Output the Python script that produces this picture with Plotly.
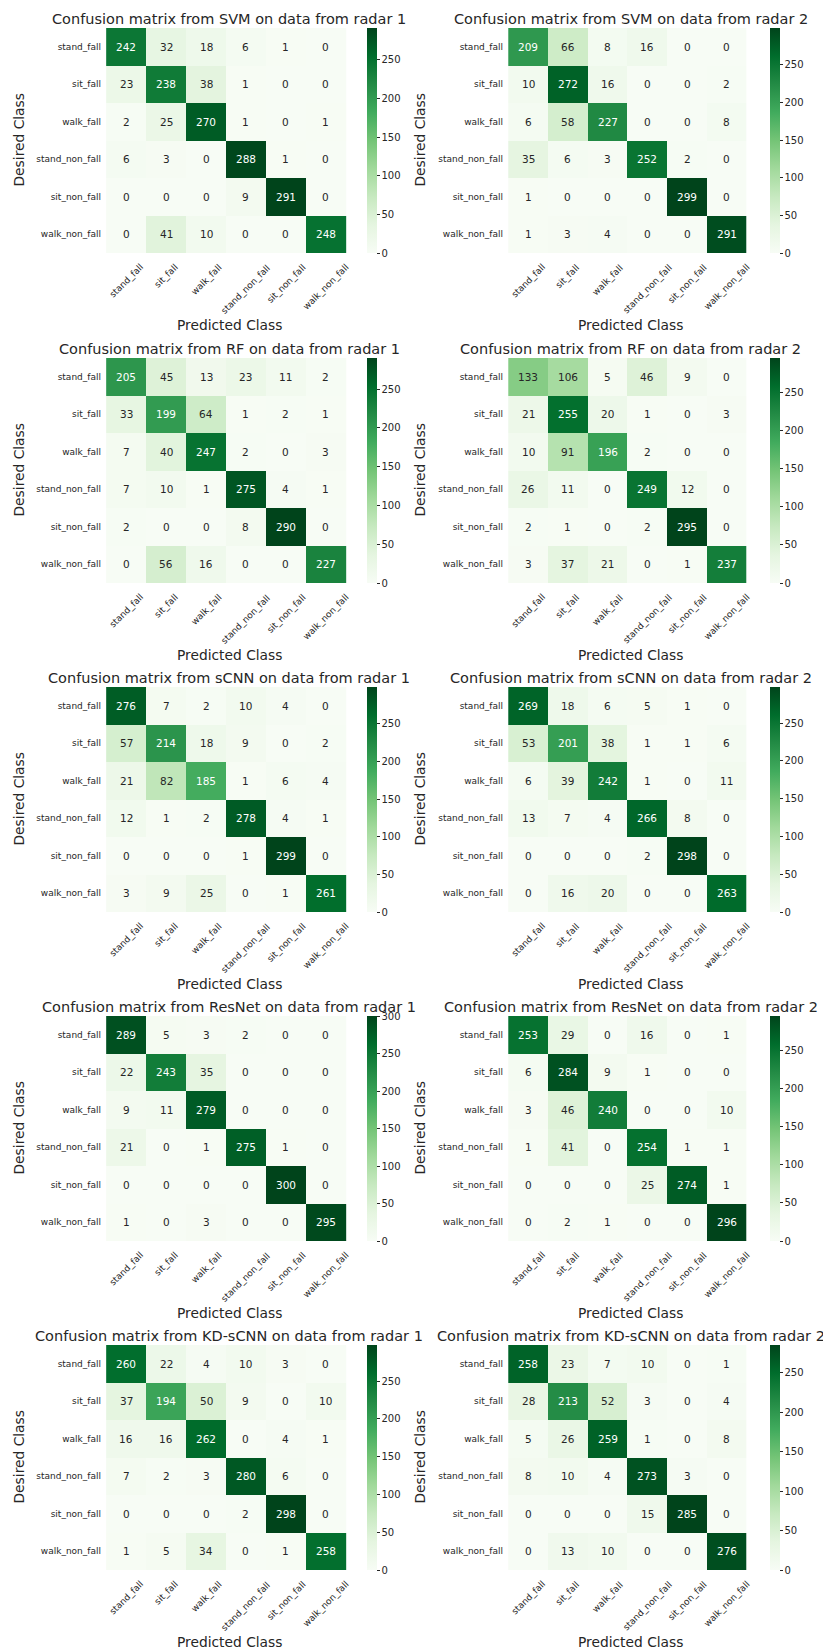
import plotly.graph_objects as go

# Class labels shared by every confusion matrix
classes = ["stand_fall", "sit_fall", "walk_fall", "stand_non_fall", "sit_non_fall", "walk_non_fall"]

svm_r1 = [[242, 32, 18, 6, 1, 0],
          [23, 238, 38, 1, 0, 0],
          [2, 25, 270, 1, 0, 1],
          [6, 3, 0, 288, 1, 0],
          [0, 0, 0, 9, 291, 0],
          [0, 41, 10, 0, 0, 248]]
svm_r2 = [[209, 66, 8, 16, 0, 0],
          [10, 272, 16, 0, 0, 2],
          [6, 58, 227, 0, 0, 8],
          [35, 6, 3, 252, 2, 0],
          [1, 0, 0, 0, 299, 0],
          [1, 3, 4, 0, 0, 291]]
rf_r1 = [[205, 45, 13, 23, 11, 2],
         [33, 199, 64, 1, 2, 1],
         [7, 40, 247, 2, 0, 3],
         [7, 10, 1, 275, 4, 1],
         [2, 0, 0, 8, 290, 0],
         [0, 56, 16, 0, 0, 227]]
rf_r2 = [[133, 106, 5, 46, 9, 0],
         [21, 255, 20, 1, 0, 3],
         [10, 91, 196, 2, 0, 0],
         [26, 11, 0, 249, 12, 0],
         [2, 1, 0, 2, 295, 0],
         [3, 37, 21, 0, 1, 237]]
scnn_r1 = [[276, 7, 2, 10, 4, 0],
           [57, 214, 18, 9, 0, 2],
           [21, 82, 185, 1, 6, 4],
           [12, 1, 2, 278, 4, 1],
           [0, 0, 0, 1, 299, 0],
           [3, 9, 25, 0, 1, 261]]
scnn_r2 = [[269, 18, 6, 5, 1, 0],
           [53, 201, 38, 1, 1, 6],
           [6, 39, 242, 1, 0, 11],
           [13, 7, 4, 266, 8, 0],
           [0, 0, 0, 2, 298, 0],
           [0, 16, 20, 0, 0, 263]]
resnet_r1 = [[289, 5, 3, 2, 0, 0],
             [22, 243, 35, 0, 0, 0],
             [9, 11, 279, 0, 0, 0],
             [21, 0, 1, 275, 1, 0],
             [0, 0, 0, 0, 300, 0],
             [1, 0, 3, 0, 0, 295]]
resnet_r2 = [[253, 29, 0, 16, 0, 1],
             [6, 284, 9, 1, 0, 0],
             [3, 46, 240, 0, 0, 10],
             [1, 41, 0, 254, 1, 1],
             [0, 0, 0, 25, 274, 1],
             [0, 2, 1, 0, 0, 296]]
kdscnn_r1 = [[260, 22, 4, 10, 3, 0],
             [37, 194, 50, 9, 0, 10],
             [16, 16, 262, 0, 4, 1],
             [7, 2, 3, 280, 6, 0],
             [0, 0, 0, 2, 298, 0],
             [1, 5, 34, 0, 1, 258]]
kdscnn_r2 = [[258, 23, 7, 10, 0, 1],
             [28, 213, 52, 3, 0, 4],
             [5, 26, 259, 1, 0, 8],
             [8, 10, 4, 273, 3, 0],
             [0, 0, 0, 15, 285, 0],
             [0, 13, 10, 0, 0, 276]]

models = ["SVM", "RF", "sCNN", "ResNet", "KD-sCNN"]
matrices = [[svm_r1, svm_r2], [rf_r1, rf_r2], [scnn_r1, scnn_r2],
            [resnet_r1, resnet_r2], [kdscnn_r1, kdscnn_r2]]

W, H = 823, 1650
FONT = "DejaVu Sans"
DARK = "#262626"

# Matplotlib "Greens" colormap anchors
greens = ["#f7fcf5", "#e5f5e0", "#c7e9c0", "#a1d99b", "#74c476",
          "#41ab5d", "#238b45", "#006d2c", "#00441b"]
colorscale = [[i / (len(greens) - 1), c] for i, c in enumerate(greens)]


def hex_rgb(h):
    h = h.lstrip("#")
    return [int(h[i:i + 2], 16) / 255 for i in (0, 2, 4)]


def cmap(t):
    t = min(max(t, 0.0), 1.0)
    pos = t * (len(greens) - 1)
    i = min(int(pos), len(greens) - 2)
    f = pos - i
    a, b = hex_rgb(greens[i]), hex_rgb(greens[i + 1])
    return [a[k] + (b[k] - a[k]) * f for k in range(3)]


def luminance(rgb):
    lin = [c / 12.92 if c <= 0.03928 else ((c + 0.055) / 1.055) ** 2.4 for c in rgb]
    return 0.2126 * lin[0] + 0.7152 * lin[1] + 0.0722 * lin[2]


def px_x(p):
    return p / W


def px_y(p):
    return 1 - p / H


# Panel geometry in pixels
col_x = [(106, 352), (508, 753)]
col_cb = [367, 770]
row_top = [28, 358, 687, 1016, 1345]
panel_h = 225

fig = go.Figure()
annotations = []
layout = {}

idx = 0
for r, model in enumerate(models):
    for c in range(2):
        idx += 1
        z = matrices[r][c]
        zmax = max(max(row) for row in z)
        xa = "x" if idx == 1 else f"x{idx}"
        ya = "y" if idx == 1 else f"y{idx}"
        x0, x1 = col_x[c]
        top = row_top[r]
        bot = top + panel_h

        ticks = list(range(0, zmax + 1, 50))
        fig.add_trace(go.Heatmap(
            z=z, x=classes, y=classes, xaxis=xa, yaxis=ya,
            colorscale=colorscale, zmin=0, zmax=zmax,
            hoverinfo="skip",
            colorbar=dict(
                x=px_x(col_cb[c]), xanchor="left", xpad=0,
                y=px_y(top), yanchor="top", ypad=0,
                len=panel_h / H, lenmode="fraction",
                thickness=10, thicknessmode="pixels",
                outlinewidth=0, ticks="outside", ticklen=3, tickwidth=1,
                tickcolor=DARK, tickvals=ticks,
                tickfont=dict(family=FONT, size=10, color=DARK),
            ),
        ))

        layout[f"xaxis{'' if idx == 1 else idx}"] = dict(
            domain=[px_x(x0), px_x(x1)], anchor=ya, type="category",
            showgrid=False, zeroline=False, showline=False, ticks="",
            showticklabels=False,
        )
        layout[f"yaxis{'' if idx == 1 else idx}"] = dict(
            domain=[px_y(bot), px_y(top)], anchor=xa, type="category",
            autorange="reversed", showgrid=False, zeroline=False,
            showline=False, ticks="", ticklabelstandoff=4,
            tickfont=dict(family=FONT, size=9, color=DARK),
        )

        # Cell value labels, dark on light cells and white on dark ones
        for i, yc in enumerate(classes):
            for j, xc in enumerate(classes):
                v = z[i][j]
                col = DARK if luminance(cmap(v / zmax)) > 0.408 else "white"
                annotations.append(dict(
                    x=xc, y=yc, xref=xa, yref=ya, text=str(v), showarrow=False,
                    font=dict(family=FONT, size=10.5, color=col),
                ))

        # Rotated column labels, centred under each column
        for xc in classes:
            annotations.append(dict(
                x=xc, xref=xa, y=px_y(bot + 8), yref="paper", text=xc,
                showarrow=False, textangle=-45, xanchor="center", yanchor="top",
                borderpad=0, font=dict(family=FONT, size=9, color=DARK),
            ))

        cx = (x0 + x1) / 2
        annotations.append(dict(
            x=px_x(cx), y=px_y(top - 9), xref="paper", yref="paper",
            text=f"Confusion matrix from {model} on data from radar {c + 1}",
            showarrow=False, xanchor="center", yanchor="middle",
            font=dict(family=FONT, size=14.5, color=DARK),
        ))
        annotations.append(dict(
            x=px_x(cx), y=px_y(bot + 72), xref="paper", yref="paper",
            text="Predicted Class", showarrow=False,
            xanchor="center", yanchor="middle",
            font=dict(family=FONT, size=13.8, color=DARK),
        ))
        annotations.append(dict(
            x=px_x(18 if c == 0 else 419), y=px_y((top + bot) / 2),
            xref="paper", yref="paper", text="Desired Class", showarrow=False,
            textangle=-90, xanchor="center", yanchor="middle",
            font=dict(family=FONT, size=13.8, color=DARK),
        ))

fig.update_layout(
    width=W, height=H,
    margin=dict(l=0, r=0, t=0, b=0, autoexpand=False),
    paper_bgcolor="white", plot_bgcolor="white",
    showlegend=False, annotations=annotations,
    **layout,
)

fig.write_html("out.html")
